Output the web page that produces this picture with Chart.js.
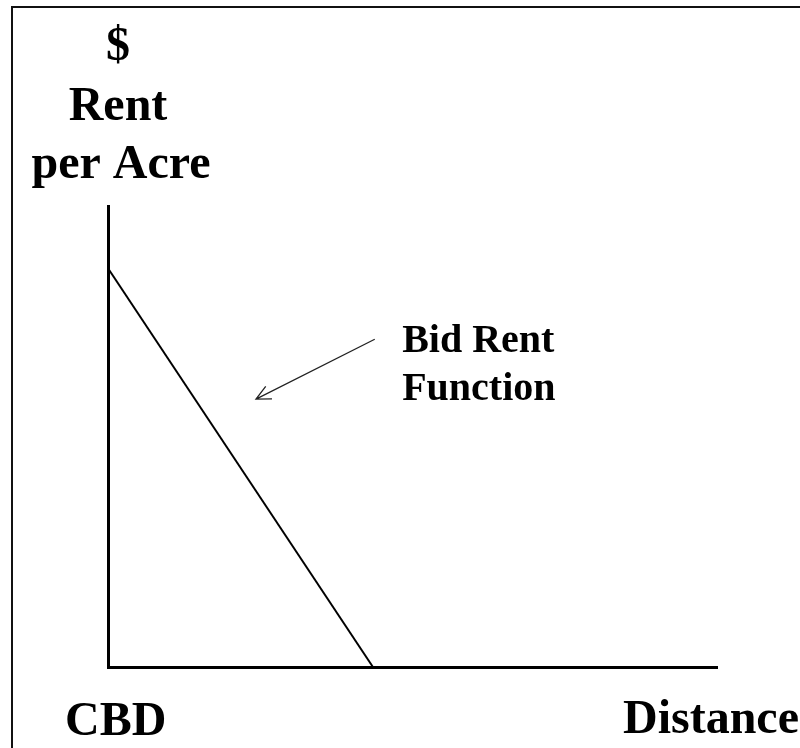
<!DOCTYPE html>
<html>
<head>
<meta charset="utf-8">
<script src="https://cdn.jsdelivr.net/npm/chart.js@4.4.1/dist/chart.umd.min.js"></script>
<style>
  html, body { margin: 0; padding: 0; background: #fff; overflow: hidden; }
  #frame { position: absolute; left: 11px; top: 6px; width: 820px; height: 800px;
           border-top: 2px solid #111; border-left: 2px solid #111; }
  #wrap { position: absolute; left: 0; top: 0; width: 800px; height: 748px; }
</style>
</head>
<body>
<div id="frame"></div>
<div id="wrap"><canvas id="bidRent"></canvas></div>
<script>
// bid rent curve: distance from CBD vs rent per acre
const distance = [0, 4.35];
const rent = [8.65, 0];

// arrow pointing at the curve (start -> tip), in data units
const arrowFrom = { x: 4.38, y: 7.11 };
const arrowTo = { x: 2.43, y: 5.81 };

// texts
const yTitleLines = ['$', 'Rent', 'per Acre'];
const xEndLabels = ['CBD', 'Distance'];
const noteLines = ['Bid Rent', 'Function'];
const noteAt = { x: 4.83, y: 6.83 };

const serif = '"Liberation Serif", "Times New Roman", serif';

const textPlugin = {
  id: 'bidRentText',
  afterDraw(chart) {
    const ctx = chart.ctx;
    const area = chart.chartArea;
    const xs = chart.scales.x, ys = chart.scales.y;
    ctx.save();
    ctx.fillStyle = '#000';
    ctx.textBaseline = 'alphabetic';

    // y title stacked above the axis
    ctx.font = 'bold 48px ' + serif;
    ctx.textAlign = 'center';
    const yOffs = [-146, -86, -28];
    const xOffs = [10, 10, 13];
    yTitleLines.forEach((t, i) => ctx.fillText(t, area.left + xOffs[i], area.top + yOffs[i]));

    // CBD / Distance under the x axis
    ctx.textAlign = 'left';
    ctx.fillText(xEndLabels[0], area.left - 43, area.bottom + 68);
    ctx.fillText(xEndLabels[1], area.right - 94, area.bottom + 66);

    // annotation text
    ctx.font = 'bold 40px ' + serif;
    const nx = xs.getPixelForValue(noteAt.x);
    const ny = ys.getPixelForValue(noteAt.y);
    noteLines.forEach((t, i) => ctx.fillText(t, nx, ny + i * 48));

    // arrow
    const x1 = xs.getPixelForValue(arrowFrom.x), y1 = ys.getPixelForValue(arrowFrom.y);
    const x2 = xs.getPixelForValue(arrowTo.x), y2 = ys.getPixelForValue(arrowTo.y);
    ctx.strokeStyle = '#222';
    ctx.lineWidth = 1.3;
    ctx.beginPath();
    ctx.moveTo(x1, y1);
    ctx.lineTo(x2, y2);
    const ang = Math.atan2(y1 - y2, x1 - x2);
    const len = 16;
    ctx.moveTo(x2 + len * Math.cos(ang + 0.45), y2 + len * Math.sin(ang + 0.45));
    ctx.lineTo(x2, y2);
    ctx.lineTo(x2 + len * Math.cos(ang - 0.45), y2 + len * Math.sin(ang - 0.45));
    ctx.stroke();
    ctx.restore();
  }
};

const axisOpts = {
  min: 0,
  max: 10,
  grid: { display: false, drawTicks: false },
  ticks: { display: false },
  border: { display: true, color: '#000', width: 3 }
};

new Chart(document.getElementById('bidRent'), {
  type: 'scatter',
  data: {
    datasets: [{
      label: 'Bid Rent Function',
      data: distance.map((d, i) => ({ x: d, y: rent[i] })),
      showLine: true,
      borderColor: '#000',
      borderWidth: 2,
      pointRadius: 0,
      clip: false
    }]
  },
  options: {
    responsive: true,
    maintainAspectRatio: false,
    animation: false,
    layout: { padding: { left: 108, top: 206, right: 83, bottom: 81 } },
    plugins: { legend: { display: false }, tooltip: { enabled: false } },
    scales: { x: axisOpts, y: axisOpts }
  },
  plugins: [textPlugin]
});
</script>
</body>
</html>
